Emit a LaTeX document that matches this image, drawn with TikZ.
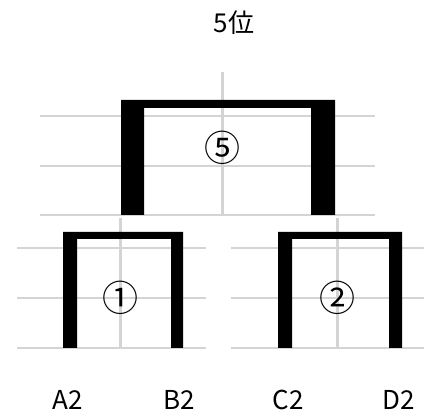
\documentclass[tikz,border=0pt]{standalone}
\usepackage{fontspec}
\setmainfont{Noto Sans CJK JP}
\usetikzlibrary{positioning}

\begin{document}
\begin{tikzpicture}[x=1pt, y=-1pt,
    grid/.style={draw=black!17, line width=1.8pt},
    axis/.style={draw=black!17, line width=3pt},
    bracket/.style={fill=black},
    lbl/.style={font=\fontsize{26}{26}\selectfont, inner sep=0pt},
    seed/.style={font=\fontsize{36}{36}\selectfont, inner sep=0pt}
]
    \useasboundingbox (0,0) rectangle (424,419);

    % Grid behind the final
    \draw [grid] (40,116) -- (375,116);
    \draw [grid] (40,166) -- (375,166);
    \draw [grid] (40,215) -- (375,215);
    \draw [axis] (222,72) -- (222,215);

    % Grid behind the first round
    \draw [grid] (17,248) -- (206,248);
    \draw [grid] (17,298) -- (206,298);
    \draw [grid] (17,348) -- (206,348);
    \draw [axis] (120,218) -- (120,348);
    \draw [grid] (231,248) -- (424,248);
    \draw [grid] (231,298) -- (424,298);
    \draw [grid] (231,348) -- (424,348);
    \draw [axis] (337,218) -- (337,348);

    % Brackets
    \fill [bracket] (121,215) -- (121,100) -- (335,100) -- (335,215) -- (311,215) -- (311,108) -- (144,108) -- (144,215) -- cycle;
    \fill [bracket] (63,348) -- (63,232) -- (183,232) -- (183,348) -- (171,348) -- (171,239) -- (77,239) -- (77,348) -- cycle;
    \fill [bracket] (278,348) -- (278,232) -- (402,232) -- (402,348) -- (389,348) -- (389,239) -- (292,239) -- (292,348) -- cycle;

    % Match numbers
    \node [seed] (m5) at (222,148) {⑤};
    \node [seed] (m1) at (120,298) {①};
    \node [seed] (m2) at (337,298) {②};

    \node [lbl] (title) at (234,23) {5位};

    % Teams
    \node [lbl] (a2) at (68,400) {A2};
    \node [lbl] (b2) at (179,400) {B2};
    \node [lbl] (c2) at (288,400) {C2};
    \node [lbl] (d2) at (399,400) {D2};

\end{tikzpicture}
\end{document}
